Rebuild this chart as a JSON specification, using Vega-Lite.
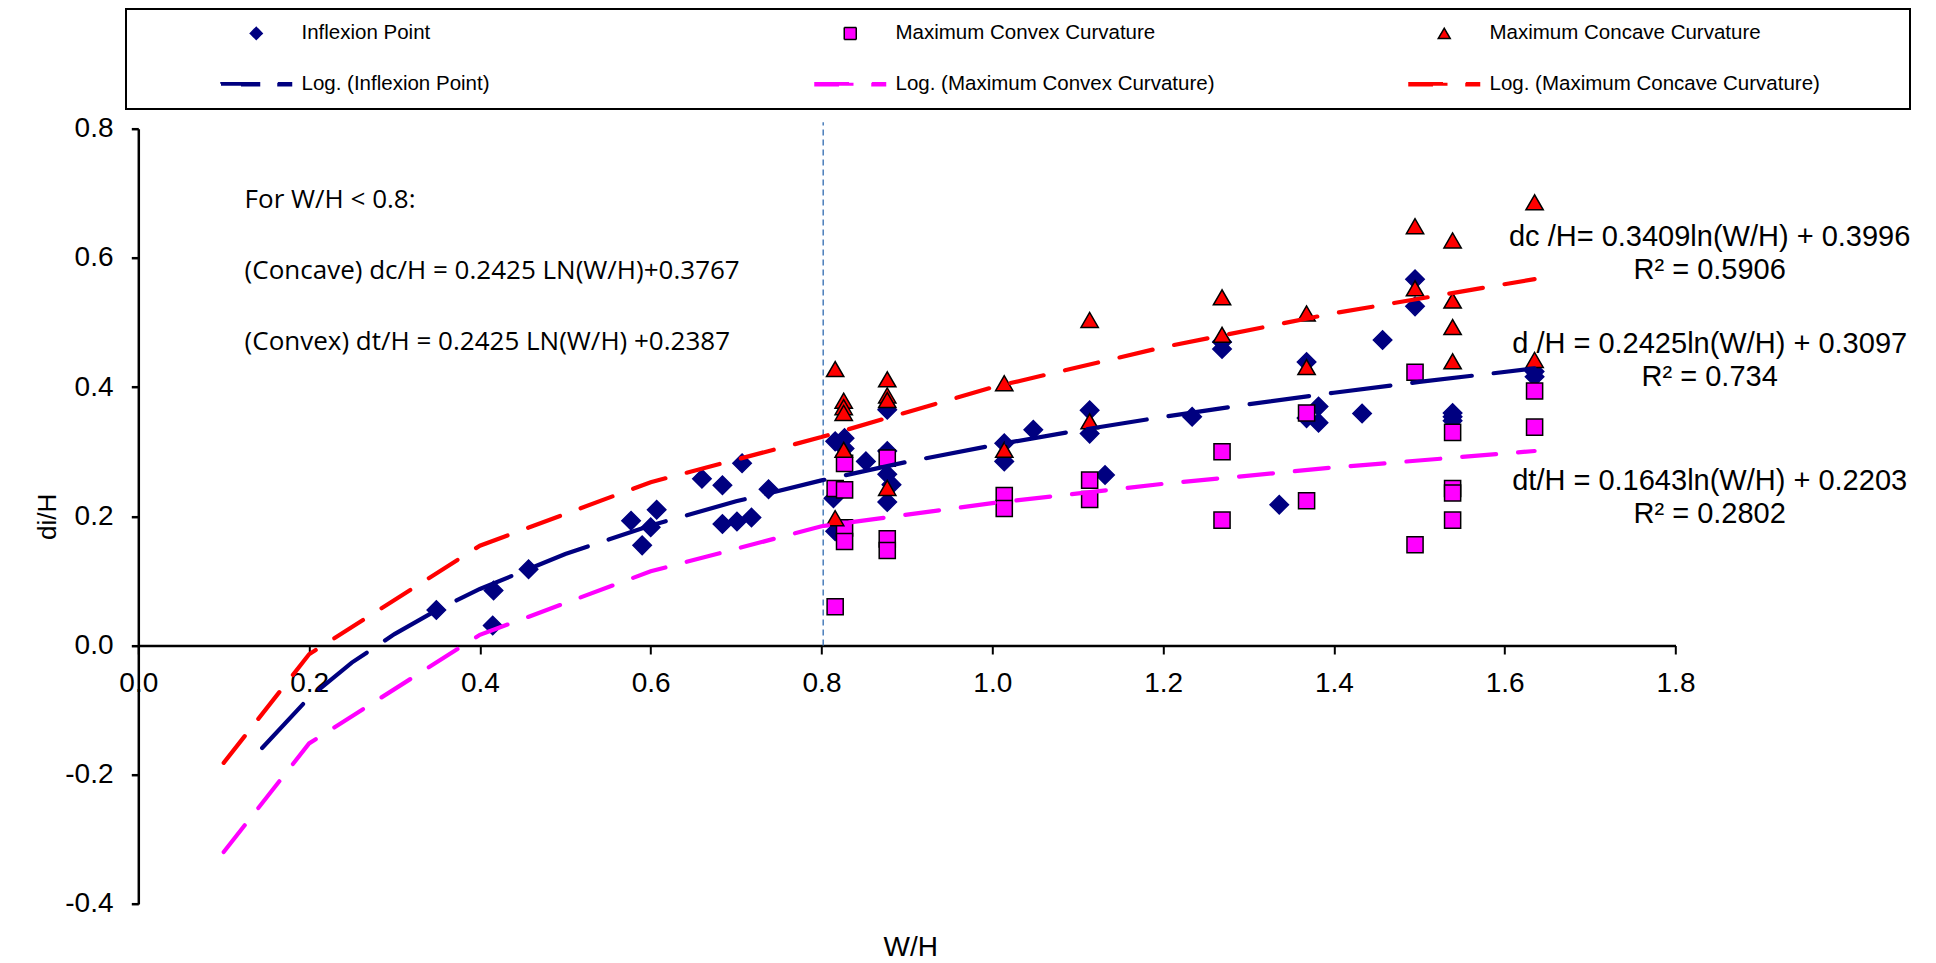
{
  "$schema": "https://vega.github.io/schema/vega-lite/v6.json",
  "width": 1537.2,
  "height": 775.2,
  "autosize": {"type": "none"},
  "padding": {"left": 138.3, "top": 128.7, "right": 260.5, "bottom": 59.1},
  "background": "white",
  "config": {
    "view": {"stroke": null},
    "axis": {
      "grid": false,
      "labelFont": "Liberation Sans",
      "labelFontSize": 28,
      "labelColor": "black",
      "titleFont": "Liberation Sans",
      "titleFontWeight": "normal",
      "titleColor": "black",
      "domainColor": "black",
      "tickColor": "black",
      "labelOverlap": false,
      "labelFlush": false
    },
    "legend": {
      "symbolSize": 144,
      "symbolStrokeWidth": 1.5,
      "strokeWidth": 2
    }
  },
  "datasets": {
    "markers": [
      {"series": "Inflexion Point", "WH": 0.349, "dH": 0.055},
      {"series": "Inflexion Point", "WH": 0.416, "dH": 0.085},
      {"series": "Inflexion Point", "WH": 0.415, "dH": 0.031},
      {"series": "Inflexion Point", "WH": 0.457, "dH": 0.118},
      {"series": "Inflexion Point", "WH": 0.577, "dH": 0.193},
      {"series": "Inflexion Point", "WH": 0.590, "dH": 0.155},
      {"series": "Inflexion Point", "WH": 0.600, "dH": 0.183},
      {"series": "Inflexion Point", "WH": 0.607, "dH": 0.210},
      {"series": "Inflexion Point", "WH": 0.660, "dH": 0.258},
      {"series": "Inflexion Point", "WH": 0.684, "dH": 0.248},
      {"series": "Inflexion Point", "WH": 0.707, "dH": 0.282},
      {"series": "Inflexion Point", "WH": 0.684, "dH": 0.188},
      {"series": "Inflexion Point", "WH": 0.701, "dH": 0.192},
      {"series": "Inflexion Point", "WH": 0.718, "dH": 0.198},
      {"series": "Inflexion Point", "WH": 0.738, "dH": 0.242},
      {"series": "Inflexion Point", "WH": 0.816, "dH": 0.316},
      {"series": "Inflexion Point", "WH": 0.827, "dH": 0.321},
      {"series": "Inflexion Point", "WH": 0.827, "dH": 0.305},
      {"series": "Inflexion Point", "WH": 0.814, "dH": 0.228},
      {"series": "Inflexion Point", "WH": 0.816, "dH": 0.177},
      {"series": "Inflexion Point", "WH": 0.852, "dH": 0.285},
      {"series": "Inflexion Point", "WH": 0.877, "dH": 0.365},
      {"series": "Inflexion Point", "WH": 0.877, "dH": 0.301},
      {"series": "Inflexion Point", "WH": 0.877, "dH": 0.265},
      {"series": "Inflexion Point", "WH": 0.882, "dH": 0.249},
      {"series": "Inflexion Point", "WH": 0.877, "dH": 0.222},
      {"series": "Inflexion Point", "WH": 1.014, "dH": 0.313},
      {"series": "Inflexion Point", "WH": 1.014, "dH": 0.285},
      {"series": "Inflexion Point", "WH": 1.048, "dH": 0.334},
      {"series": "Inflexion Point", "WH": 1.114, "dH": 0.364},
      {"series": "Inflexion Point", "WH": 1.114, "dH": 0.328},
      {"series": "Inflexion Point", "WH": 1.132, "dH": 0.264},
      {"series": "Inflexion Point", "WH": 1.234, "dH": 0.354},
      {"series": "Inflexion Point", "WH": 1.269, "dH": 0.470},
      {"series": "Inflexion Point", "WH": 1.269, "dH": 0.459},
      {"series": "Inflexion Point", "WH": 1.336, "dH": 0.218},
      {"series": "Inflexion Point", "WH": 1.368, "dH": 0.439},
      {"series": "Inflexion Point", "WH": 1.382, "dH": 0.370},
      {"series": "Inflexion Point", "WH": 1.382, "dH": 0.345},
      {"series": "Inflexion Point", "WH": 1.368, "dH": 0.352},
      {"series": "Inflexion Point", "WH": 1.433, "dH": 0.359},
      {"series": "Inflexion Point", "WH": 1.457, "dH": 0.473},
      {"series": "Inflexion Point", "WH": 1.495, "dH": 0.567},
      {"series": "Inflexion Point", "WH": 1.495, "dH": 0.525},
      {"series": "Inflexion Point", "WH": 1.539, "dH": 0.360},
      {"series": "Inflexion Point", "WH": 1.539, "dH": 0.354},
      {"series": "Inflexion Point", "WH": 1.539, "dH": 0.348},
      {"series": "Inflexion Point", "WH": 1.635, "dH": 0.424},
      {"series": "Inflexion Point", "WH": 1.635, "dH": 0.416},
      {"series": "Maximum Convex Curvature", "WH": 0.827, "dH": 0.282},
      {"series": "Maximum Convex Curvature", "WH": 0.816, "dH": 0.243},
      {"series": "Maximum Convex Curvature", "WH": 0.827, "dH": 0.241},
      {"series": "Maximum Convex Curvature", "WH": 0.827, "dH": 0.182},
      {"series": "Maximum Convex Curvature", "WH": 0.827, "dH": 0.161},
      {"series": "Maximum Convex Curvature", "WH": 0.816, "dH": 0.060},
      {"series": "Maximum Convex Curvature", "WH": 0.877, "dH": 0.290},
      {"series": "Maximum Convex Curvature", "WH": 0.877, "dH": 0.165},
      {"series": "Maximum Convex Curvature", "WH": 0.877, "dH": 0.147},
      {"series": "Maximum Convex Curvature", "WH": 1.014, "dH": 0.232},
      {"series": "Maximum Convex Curvature", "WH": 1.014, "dH": 0.212},
      {"series": "Maximum Convex Curvature", "WH": 1.114, "dH": 0.256},
      {"series": "Maximum Convex Curvature", "WH": 1.114, "dH": 0.226},
      {"series": "Maximum Convex Curvature", "WH": 1.269, "dH": 0.300},
      {"series": "Maximum Convex Curvature", "WH": 1.269, "dH": 0.194},
      {"series": "Maximum Convex Curvature", "WH": 1.368, "dH": 0.360},
      {"series": "Maximum Convex Curvature", "WH": 1.368, "dH": 0.224},
      {"series": "Maximum Convex Curvature", "WH": 1.495, "dH": 0.423},
      {"series": "Maximum Convex Curvature", "WH": 1.495, "dH": 0.156},
      {"series": "Maximum Convex Curvature", "WH": 1.539, "dH": 0.330},
      {"series": "Maximum Convex Curvature", "WH": 1.539, "dH": 0.243},
      {"series": "Maximum Convex Curvature", "WH": 1.539, "dH": 0.236},
      {"series": "Maximum Convex Curvature", "WH": 1.539, "dH": 0.194},
      {"series": "Maximum Convex Curvature", "WH": 1.635, "dH": 0.394},
      {"series": "Maximum Convex Curvature", "WH": 1.635, "dH": 0.338},
      {"series": "Maximum Concave Curvature", "WH": 0.816, "dH": 0.428},
      {"series": "Maximum Concave Curvature", "WH": 0.826, "dH": 0.379},
      {"series": "Maximum Concave Curvature", "WH": 0.826, "dH": 0.369},
      {"series": "Maximum Concave Curvature", "WH": 0.826, "dH": 0.360},
      {"series": "Maximum Concave Curvature", "WH": 0.826, "dH": 0.303},
      {"series": "Maximum Concave Curvature", "WH": 0.816, "dH": 0.197},
      {"series": "Maximum Concave Curvature", "WH": 0.877, "dH": 0.412},
      {"series": "Maximum Concave Curvature", "WH": 0.877, "dH": 0.387},
      {"series": "Maximum Concave Curvature", "WH": 0.877, "dH": 0.380},
      {"series": "Maximum Concave Curvature", "WH": 0.877, "dH": 0.244},
      {"series": "Maximum Concave Curvature", "WH": 1.014, "dH": 0.406},
      {"series": "Maximum Concave Curvature", "WH": 1.014, "dH": 0.303},
      {"series": "Maximum Concave Curvature", "WH": 1.114, "dH": 0.504},
      {"series": "Maximum Concave Curvature", "WH": 1.114, "dH": 0.347},
      {"series": "Maximum Concave Curvature", "WH": 1.269, "dH": 0.539},
      {"series": "Maximum Concave Curvature", "WH": 1.269, "dH": 0.481},
      {"series": "Maximum Concave Curvature", "WH": 1.368, "dH": 0.514},
      {"series": "Maximum Concave Curvature", "WH": 1.368, "dH": 0.431},
      {"series": "Maximum Concave Curvature", "WH": 1.495, "dH": 0.649},
      {"series": "Maximum Concave Curvature", "WH": 1.495, "dH": 0.553},
      {"series": "Maximum Concave Curvature", "WH": 1.539, "dH": 0.627},
      {"series": "Maximum Concave Curvature", "WH": 1.539, "dH": 0.534},
      {"series": "Maximum Concave Curvature", "WH": 1.539, "dH": 0.493},
      {"series": "Maximum Concave Curvature", "WH": 1.539, "dH": 0.440},
      {"series": "Maximum Concave Curvature", "WH": 1.635, "dH": 0.686},
      {"series": "Maximum Concave Curvature", "WH": 1.635, "dH": 0.442}
    ],
    "trends": [
      {"series": "Log. (Inflexion Point)", "WH": 0.145, "dH": -0.1586},
      {"series": "Log. (Inflexion Point)", "WH": 0.2, "dH": -0.0806},
      {"series": "Log. (Inflexion Point)", "WH": 0.25, "dH": -0.0265},
      {"series": "Log. (Inflexion Point)", "WH": 0.3, "dH": 0.0177},
      {"series": "Log. (Inflexion Point)", "WH": 0.35, "dH": 0.0551},
      {"series": "Log. (Inflexion Point)", "WH": 0.4, "dH": 0.0875},
      {"series": "Log. (Inflexion Point)", "WH": 0.5, "dH": 0.1416},
      {"series": "Log. (Inflexion Point)", "WH": 0.6, "dH": 0.1858},
      {"series": "Log. (Inflexion Point)", "WH": 0.7, "dH": 0.2232},
      {"series": "Log. (Inflexion Point)", "WH": 0.8, "dH": 0.2556},
      {"series": "Log. (Inflexion Point)", "WH": 0.9, "dH": 0.2842},
      {"series": "Log. (Inflexion Point)", "WH": 1.0, "dH": 0.3097},
      {"series": "Log. (Inflexion Point)", "WH": 1.1, "dH": 0.3328},
      {"series": "Log. (Inflexion Point)", "WH": 1.2, "dH": 0.3539},
      {"series": "Log. (Inflexion Point)", "WH": 1.3, "dH": 0.3733},
      {"series": "Log. (Inflexion Point)", "WH": 1.4, "dH": 0.3913},
      {"series": "Log. (Inflexion Point)", "WH": 1.5, "dH": 0.4080},
      {"series": "Log. (Inflexion Point)", "WH": 1.635, "dH": 0.4289},
      {"series": "Log. (Maximum Convex Curvature)", "WH": 0.1, "dH": -0.3197},
      {"series": "Log. (Maximum Convex Curvature)", "WH": 0.2, "dH": -0.1516},
      {"series": "Log. (Maximum Convex Curvature)", "WH": 0.4, "dH": 0.0165},
      {"series": "Log. (Maximum Convex Curvature)", "WH": 0.6, "dH": 0.1148},
      {"series": "Log. (Maximum Convex Curvature)", "WH": 0.8, "dH": 0.1846},
      {"series": "Log. (Maximum Convex Curvature)", "WH": 1.0, "dH": 0.2203},
      {"series": "Log. (Maximum Convex Curvature)", "WH": 1.2, "dH": 0.2503},
      {"series": "Log. (Maximum Convex Curvature)", "WH": 1.4, "dH": 0.2756},
      {"series": "Log. (Maximum Convex Curvature)", "WH": 1.635, "dH": 0.3011},
      {"series": "Log. (Maximum Concave Curvature)", "WH": 0.1, "dH": -0.1817},
      {"series": "Log. (Maximum Concave Curvature)", "WH": 0.2, "dH": -0.0136},
      {"series": "Log. (Maximum Concave Curvature)", "WH": 0.4, "dH": 0.1545},
      {"series": "Log. (Maximum Concave Curvature)", "WH": 0.6, "dH": 0.2528},
      {"series": "Log. (Maximum Concave Curvature)", "WH": 0.8, "dH": 0.3226},
      {"series": "Log. (Maximum Concave Curvature)", "WH": 1.0, "dH": 0.3996},
      {"series": "Log. (Maximum Concave Curvature)", "WH": 1.2, "dH": 0.4618},
      {"series": "Log. (Maximum Concave Curvature)", "WH": 1.4, "dH": 0.5143},
      {"series": "Log. (Maximum Concave Curvature)", "WH": 1.635, "dH": 0.5672}
    ],
    "equations": [
      {"eq": "dc /H= 0.3409ln(W/H) + 0.3996\nR² = 0.5906", "WH": 1.840, "dH": 0.6184},
      {"eq": "d /H = 0.2425ln(W/H) + 0.3097\nR² = 0.734", "WH": 1.840, "dH": 0.4533},
      {"eq": "dt/H = 0.1643ln(W/H) + 0.2203\nR² = 0.2802", "WH": 1.840, "dH": 0.2407}
    ],
    "notes": [
      {"note": "For W/H < 0.8:\n(Concave) dc/H = 0.2425 LN(W/H)+0.3767\n(Convex) dt/H = 0.2425 LN(W/H) +0.2387", "WH": 0.1245, "dH": 0.6777}
    ],
    "threshold": [
      {"WH": 0.802, "dH": 0, "dH2": 0.81}
    ]
  },
  "layer": [
    {
      "data": {"name": "threshold"},
      "mark": {"type": "rule", "color": "#4A7EBB", "strokeWidth": 1.5, "strokeDash": [6, 4]},
      "encoding": {
        "x": {"field": "WH", "type": "quantitative"},
        "y": {"field": "dH", "type": "quantitative"},
        "y2": {"field": "dH2"}
      }
    },
    {
      "data": {"name": "markers"},
      "mark": {"type": "point", "filled": true, "opacity": 1, "strokeWidth": 1.5},
      "encoding": {
        "x": {
          "field": "WH", "type": "quantitative",
          "scale": {"domain": [0, 1.8], "nice": false, "zero": false},
          "axis": {
            "title": "W/H",
            "values": [0, 0.2, 0.4, 0.6, 0.8, 1.0, 1.2, 1.4, 1.6, 1.8],
            "format": ".1f",
            "offset": -258.4,
            "tickSize": 8.5,
            "tickWidth": 2,
            "domainWidth": 2.5,
            "labelPadding": 15,
            "titleFontSize": 28,
            "titleBaseline": "alphabetic",
            "titleAlign": "center",
            "titleX": 772,
            "titleY": 310
          }
        },
        "y": {
          "field": "dH", "type": "quantitative",
          "scale": {"domain": [-0.4, 0.8], "nice": false, "zero": false},
          "axis": {
            "title": "di/H",
            "values": [-0.4, -0.2, 0, 0.2, 0.4, 0.6, 0.8],
            "format": ".1f",
            "labelExpr": "replace(datum.label, '\u2212', '-')",
            "tickSize": 7,
            "tickWidth": 2.5,
            "domainWidth": 2.5,
            "labelPadding": 18.3,
            "titleFontSize": 26,
            "titlePadding": 4
          }
        },
        "fill": {
          "field": "series", "type": "nominal",
          "scale": {
            "domain": ["Inflexion Point", "Maximum Convex Curvature", "Maximum Concave Curvature", "Log. (Inflexion Point)", "Log. (Maximum Convex Curvature)", "Log. (Maximum Concave Curvature)"],
            "range": ["#000080", "#FF00FF", "#FF0000", "#000080", "#FF00FF", "#FF0000"]
          },
          "legend": {
            "title": null,
            "orient": "none",
            "legendX": -12.3,
            "legendY": -119.7,
            "direction": "horizontal",
            "columns": 3,
            "gridAlign": "all",
            "columnPadding": 26,
            "rowPadding": 30,
            "padding": 14,
            "strokeColor": "black",
            "fillColor": "white",
            "symbolOffset": 106,
            "labelOffset": 35,
            "labelLimit": 1000,
            "labelFont": "Liberation Sans",
            "labelFontSize": 20.5,
            "labelColor": "black",
            "labelBaseline": "middle",
            "encode": {
              "legend": {
                "update": {"strokeWidth": {"value": 2}}
              }
            }
          }
        },
        "stroke": {
          "field": "series", "type": "nominal",
          "scale": {
            "domain": ["Inflexion Point", "Maximum Convex Curvature", "Maximum Concave Curvature", "Log. (Inflexion Point)", "Log. (Maximum Convex Curvature)", "Log. (Maximum Concave Curvature)"],
            "range": ["#000080", "#000000", "#000000", "#000080", "#FF00FF", "#FF0000"]
          }
        },
        "shape": {
          "field": "series", "type": "nominal",
          "scale": {
            "domain": ["Inflexion Point", "Maximum Convex Curvature", "Maximum Concave Curvature", "Log. (Inflexion Point)", "Log. (Maximum Convex Curvature)", "Log. (Maximum Concave Curvature)"],
            "range": [
              "M74.7,0M-1,0L0,-1L1,0L0,1Z",
              "M74.7,0M-1,-1L1,-1L1,1L-1,1Z",
              "M74.7,0M0,-0.866L-1,0.866L1,0.866Z",
              "M74.7,0M-5.875,-0.25L0.5417,-0.25L0.5417,0.25L-5.875,0.25ZM3.625,-0.25L5.875,-0.25L5.875,0.25L3.625,0.25Z",
              "M74.7,0M-5.875,-0.25L0.5417,-0.25L0.5417,0.25L-5.875,0.25ZM3.625,-0.25L5.875,-0.25L5.875,0.25L3.625,0.25Z",
              "M74.7,0M-5.875,-0.25L0.5417,-0.25L0.5417,0.25L-5.875,0.25ZM3.625,-0.25L5.875,-0.25L5.875,0.25L3.625,0.25Z"
            ]
          }
        },
        "size": {
          "condition": [
            {"test": "datum.series === 'Inflexion Point'", "value": 340},
            {"test": "datum.series === 'Maximum Concave Curvature'", "value": 300}
          ],
          "value": 260
        }
      }
    },
    {
      "data": {"name": "trends"},
      "mark": {"type": "line", "strokeWidth": 4.2, "strokeCap": "round"},
      "encoding": {
        "x": {"field": "WH", "type": "quantitative"},
        "y": {"field": "dH", "type": "quantitative"},
        "stroke": {
          "field": "series", "type": "nominal",
          "scale": {
            "domain": ["Inflexion Point", "Maximum Convex Curvature", "Maximum Concave Curvature", "Log. (Inflexion Point)", "Log. (Maximum Convex Curvature)", "Log. (Maximum Concave Curvature)"],
            "range": ["#000080", "#000000", "#000000", "#000080", "#FF00FF", "#FF0000"]
          }
        },
        "strokeDash": {
          "field": "series", "type": "nominal",
          "legend": null,
          "scale": {
            "domain": ["Inflexion Point", "Maximum Convex Curvature", "Maximum Concave Curvature", "Log. (Inflexion Point)", "Log. (Maximum Convex Curvature)", "Log. (Maximum Concave Curvature)"],
            "range": [[1, 0], [1, 0], [1, 0], [60, 22], [34, 22], [34, 22]]
          }
        }
      }
    },
    {
      "data": {"name": "equations"},
      "mark": {"type": "text", "align": "center", "baseline": "alphabetic", "font": "Liberation Sans", "fontSize": 29, "lineBreak": "\n", "lineHeight": 33.3, "color": "black"},
      "encoding": {
        "x": {"field": "WH", "type": "quantitative"},
        "y": {"field": "dH", "type": "quantitative"},
        "text": {"field": "eq"}
      }
    },
    {
      "data": {"name": "notes"},
      "mark": {"type": "text", "align": "left", "baseline": "alphabetic", "font": "Open Sans", "fontSize": 26, "lineBreak": "\n", "lineHeight": 71, "color": "black"},
      "encoding": {
        "x": {"field": "WH", "type": "quantitative"},
        "y": {"field": "dH", "type": "quantitative"},
        "text": {"field": "note"}
      }
    }
  ]
}
